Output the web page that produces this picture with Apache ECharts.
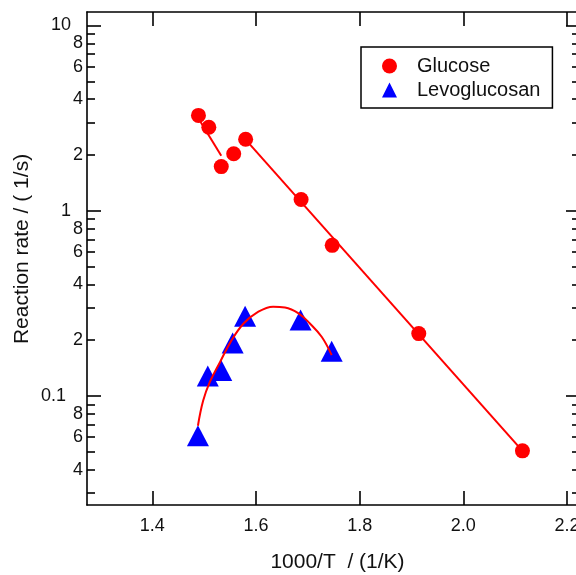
<!DOCTYPE html>
<html>
<head>
<meta charset="utf-8">
<script src="https://cdn.jsdelivr.net/npm/echarts@6/dist/echarts.min.js"></script>
<style>html,body{margin:0;padding:0;background:#fff}#c{width:576px;height:575px}</style>
</head>
<body>
<div id="c"></div>
<script>
// ---- data ----
const glucoseX = [1.489, 1.509, 1.533, 1.557, 1.580, 1.687, 1.747, 1.914, 2.114];
const glucoseY = [3.27, 2.82, 1.73, 2.03, 2.43, 1.15, 0.65, 0.217, 0.0505];
const levoX = [1.488, 1.507, 1.533, 1.555, 1.579, 1.686, 1.746];
const levoY = [0.061, 0.128, 0.137, 0.193, 0.269, 0.257, 0.174];
// fitted curves
const glucoseFitAX = [1.489, 1.533];
const glucoseFitAY = [3.15, 1.98];
const glucoseFitBX = [1.580, 2.114];
const glucoseFitBY = [2.42, 0.0505];
const levoFitX = [1.488, 1.498, 1.511, 1.531, 1.553, 1.576, 1.601, 1.633, 1.656, 1.682, 1.704, 1.727, 1.746];
const levoFitY = [0.069, 0.094, 0.119, 0.153, 0.200, 0.246, 0.281, 0.303, 0.300, 0.279, 0.246, 0.208, 0.166];
// ticks
const xTicks = [1.4, 1.6, 1.8, 2.0, 2.2];
const xTickLabels = ['1.4', '1.6', '1.8', '2.0', '2.2'];
const yDecadeTicks = [0.1, 1, 10];
const yDecadeLabels = ['{s|0.1}', '1', '10'];
const yMinorTicks = [0.03, 0.04, 0.05, 0.06, 0.07, 0.08, 0.09,
                     0.2, 0.3, 0.4, 0.5, 0.6, 0.7, 0.8, 0.9,
                     2, 3, 4, 5, 6, 7, 8, 9];
const yMinorLabelValues = [0.04, 0.06, 0.08, 0.2, 0.4, 0.6, 0.8, 2, 4, 6, 8];
const yMinorLabels = ['4', '6', '8', '2', '4', '6', '8', '2', '4', '6', '8'];

function zip(xs, ys) { return xs.map((x, i) => [x, ys[i]]); }
function lookup(vals, labels, v) {
  let best = 0, bd = Infinity;
  vals.forEach((a, i) => { const d = Math.abs(Math.log(a) - Math.log(v)); if (d < bd) { bd = d; best = i; } });
  return bd < 0.01 ? labels[best] : '';
}

const FONT = 'Liberation Sans, Arial, sans-serif';
const X_MIN = 1.274, X_MAX = 2.225;
const Y_MIN = 0.02575, Y_MAX = 11.83;
const axisLine = { show: true, lineStyle: { color: '#000', width: 1.6 } };

function yAx(pos, ticks, len, showLine, labelVals, labelTexts, margin) {
  return {
    type: 'log', logBase: 10, min: Y_MIN, max: Y_MAX, position: pos,
    axisLine: showLine ? axisLine : { show: false },
    splitLine: { show: false },
    axisTick: { show: true, inside: true, length: len, customValues: ticks, lineStyle: { color: '#000', width: 1.6 } },
    axisLabel: labelVals ? {
      show: true, customValues: labelVals, margin: margin, fontFamily: FONT, fontSize: 18, color: '#111',
      rich: { s: { fontFamily: FONT, fontSize: 18, color: '#111', padding: [0, 5, 0, 0] } },
      formatter: v => lookup(labelVals, labelTexts, v)
    } : { show: false }
  };
}

const chart = echarts.init(document.getElementById('c'), null, { renderer: 'canvas' });
chart.setOption({
  animation: false,
  backgroundColor: '#fff',
  grid: { left: 87, right: -4, top: 12, bottom: 70, outerBoundsMode: 'none' },
  legend: {
    orient: 'vertical', left: 361, top: 47,
    padding: [9, 12, 8, 21],
    borderColor: '#000', borderWidth: 1.5,
    itemWidth: 15, itemHeight: 15, itemGap: 4,
    textStyle: { fontFamily: FONT, fontSize: 20, color: '#111', lineHeight: 20, padding: [0, 0, 0, 15] },
    data: [{ name: 'Glucose', icon: 'circle' }, { name: 'Levoglucosan', icon: 'triangle' }]
  },
  xAxis: [
    {
      type: 'value', min: X_MIN, max: X_MAX, position: 'bottom',
      axisLine: axisLine, splitLine: { show: false },
      axisTick: { show: true, inside: true, length: 14, customValues: xTicks, lineStyle: { color: '#000', width: 1.6 } },
      axisLabel: { show: true, customValues: xTicks, margin: 12, fontFamily: FONT, fontSize: 18, color: '#111',
        formatter: v => lookup(xTicks, xTickLabels, v) },
      name: '1000/T  / (1/K)', nameLocation: 'middle', nameGap: 47,
      nameTextStyle: { fontFamily: FONT, fontSize: 21, color: '#111', padding: [0, 0, 0, 8] }
    },
    {
      type: 'value', min: X_MIN, max: X_MAX, position: 'top',
      axisLine: axisLine, splitLine: { show: false },
      axisTick: { show: true, inside: true, length: 14, customValues: xTicks, lineStyle: { color: '#000', width: 1.6 } },
      axisLabel: { show: false }
    }
  ],
  yAxis: [
    Object.assign(yAx('left', yMinorTicks, 8, true, yMinorLabelValues, yMinorLabels, 4), {
      name: 'Reaction rate / ( 1/s)', nameLocation: 'middle', nameGap: 54,
      nameTextStyle: { fontFamily: FONT, fontSize: 21, color: '#111', padding: [0, 0, 0, 19] }
    }),
    yAx('left', yDecadeTicks, 14, false, yDecadeTicks, yDecadeLabels, 16),
    yAx('right', yMinorTicks, 8, true, null, null, 0),
    yAx('right', yDecadeTicks, 14, false, null, null, 0)
  ],
  series: [
    { name: 'Glucose', type: 'scatter', symbol: 'circle', symbolSize: 15, z: 2,
      itemStyle: { color: '#ff0000', opacity: 1 }, data: zip(glucoseX, glucoseY) },
    { name: 'Levoglucosan', type: 'scatter', symbol: 'triangle', symbolSize: [22, 21], z: 2,
      itemStyle: { color: '#0000ff', opacity: 1 }, data: zip(levoX, levoY) },
    { name: 'Glucose fit A', type: 'line', showSymbol: false, symbol: 'none', z: 3,
      lineStyle: { color: '#ff0000', width: 2 }, data: zip(glucoseFitAX, glucoseFitAY) },
    { name: 'Glucose fit B', type: 'line', showSymbol: false, symbol: 'none', z: 3,
      lineStyle: { color: '#ff0000', width: 2 }, data: zip(glucoseFitBX, glucoseFitBY) },
    { name: 'Levoglucosan fit', type: 'line', showSymbol: false, symbol: 'none', z: 3, smooth: 0.4,
      lineStyle: { color: '#ff0000', width: 2 }, data: zip(levoFitX, levoFitY) }
  ]
});
</script>
</body>
</html>
